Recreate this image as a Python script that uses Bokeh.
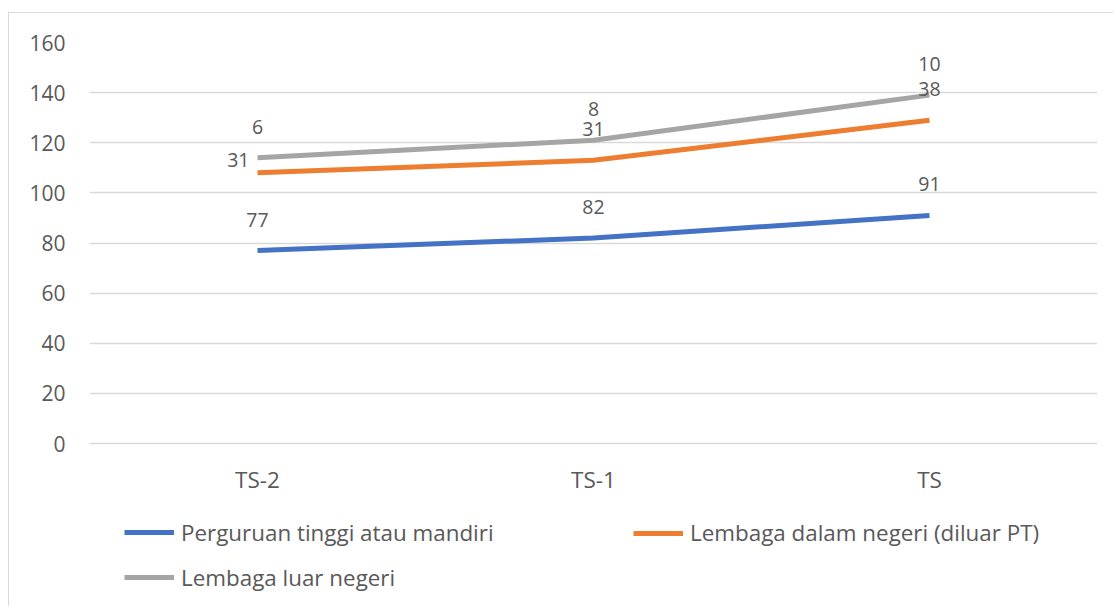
import numpy as np
from bokeh.plotting import figure
from bokeh.models import ColumnDataSource, FactorRange, Range1d, Legend, LegendItem, FixedTicker
from bokeh.core.properties import value
from bokeh.embed import file_html
from bokeh.resources import INLINE

# ---- data ----
categories = ["TS-2", "TS-1", "TS"]
series_names = ["Perguruan tinggi atau mandiri",
                "Lembaga dalam negeri (diluar PT)",
                "Lembaga luar negeri"]
perguruan_tinggi = [77, 82, 91]
dalam_negeri = [31, 31, 38]
luar_negeri = [6, 8, 10]
y_ticks = [0, 20, 40, 60, 80, 100, 120, 140, 160]

# ---- style / layout ----
COLORS = ["#4472C4", "#ED7D31", "#A5A5A5"]
FONT = "Open Sans"
TXT = "#595959"
FS_Y = "21px"
FS_X = "22.5px"
FS_LBL = "19.5px"
FS_LEG = "22.4px"
W, H = 1105, 594
F_LEFT, F_RIGHT, F_TOP = 80, 1088, 29
ZERO_PX = 430          # canvas y of value 0
Y_MAX = y_ticks[-1]
y_min = -(H - ZERO_PX) / (ZERO_PX - F_TOP) * Y_MAX   # legend space below the axis

series = [perguruan_tinggi, dalam_negeri, luar_negeri]
stacked = np.cumsum(np.array(series, dtype=float), axis=0)

p = figure(width=W, height=H,
           x_range=FactorRange(*categories, range_padding=0),
           y_range=Range1d(y_min, Y_MAX),
           x_axis_location=None,
           output_backend="svg", toolbar_location=None,
           min_border_left=F_LEFT, min_border_right=W - F_RIGHT,
           min_border_top=F_TOP, min_border_bottom=0)
p.styles = {"border-left": "1px solid #D9D9D9",
            "border-top": "1px solid #D9D9D9",
            "margin-top": "12px",
            "margin-left": "8px"}
p.outline_line_color = None
p.background_fill_color = "white"
p.border_fill_color = "white"

p.xgrid.grid_line_color = None
p.ygrid.grid_line_color = "#D9D9D9"
p.ygrid.grid_line_width = 1.3

p.yaxis.ticker = FixedTicker(ticks=y_ticks)
p.yaxis.axis_line_color = None
p.yaxis.major_tick_line_color = None
p.yaxis.minor_tick_line_color = None
p.yaxis.major_tick_out = 0
p.yaxis.major_tick_in = 0
p.yaxis.major_label_text_font = FONT
p.yaxis.major_label_text_font_size = FS_Y
p.yaxis.major_label_text_color = TXT
p.yaxis.major_label_standoff = 24

# category labels under the zero line
cat_src = ColumnDataSource(dict(x=categories, y=[0] * len(categories), text=categories))
p.text(x="x", y="y", text="text", source=cat_src, y_offset=36,
       text_align="center", text_baseline="middle",
       text_font=value(FONT), text_font_size=value(FS_X), text_color=TXT)

renderers = []
for i in range(3):
    r = p.line(categories, stacked[i], line_width=5, line_color=COLORS[i],
               line_join="round", line_cap="butt")
    renderers.append(r)

# data labels
lx, ly, lt, dx, dy, al = [], [], [], [], [], []
for i in range(3):
    for j, c in enumerate(categories):
        lx.append(c)
        ly.append(stacked[i][j])
        lt.append(str(series[i][j]))
        if i == 1 and j == 0:
            dx.append(-8); dy.append(-13); al.append("right")
        else:
            dx.append(0); dy.append(-31); al.append("center")
lbl = ColumnDataSource(dict(x=lx, y=ly, text=lt, dx=dx, dy=dy, align=al))
p.text(x="x", y="y", text="text", x_offset="dx", y_offset="dy",
       text_align="align", text_baseline="middle", source=lbl,
       text_font=value(FONT), text_font_size=value(FS_LBL), text_color=TXT)

def make_legend(items, loc):
    return Legend(items=items, location=loc, orientation="vertical",
                  border_line_color=None, background_fill_alpha=0,
                  padding=0, margin=0, spacing=14,
                  glyph_width=50, glyph_height=30, label_height=30,
                  label_standoff=7,
                  label_text_font=FONT, label_text_font_size=FS_LEG,
                  label_text_color=TXT)

leg1 = make_legend([LegendItem(label=series_names[0], renderers=[renderers[0]]),
                    LegendItem(label=series_names[2], renderers=[renderers[2]])],
                   (35, 14.25))
leg2 = make_legend([LegendItem(label=series_names[1], renderers=[renderers[1]])],
                   (544, 58.75))
p.add_layout(leg1)
p.add_layout(leg2)

open("out.html", "w").write(file_html(p, INLINE))
